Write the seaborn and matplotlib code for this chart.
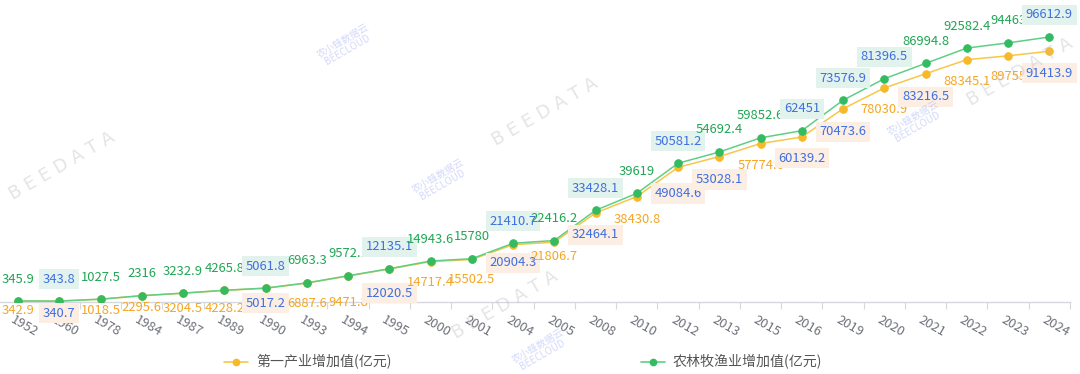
import numpy as np
import pandas as pd
import matplotlib
matplotlib.use("Agg")
import matplotlib.pyplot as plt
import matplotlib.transforms as mtransforms
from matplotlib.lines import Line2D
import seaborn as sns

# ---------------- data ----------------
years = ["1952", "1960", "1978", "1984", "1987", "1989", "1990", "1993", "1994", "1995",
         "2000", "2001", "2004", "2005", "2008", "2010", "2012", "2013", "2015", "2016",
         "2019", "2020", "2021", "2022", "2023", "2024"]
primary = [342.9, 340.7, 1018.5, 2295.6, 3204.5, 4228.2, 5017.2, 6887.6, 9471.8, 12020.5,
           14717.4, 15502.5, 20904.3, 21806.7, 32464.1, 38430.8, 49084.6, 53028.1, 57774.6, 60139.2,
           70473.6, 78030.9, 83216.5, 88345.1, 89755, 91413.9]
agri = [345.9, 343.8, 1027.5, 2316, 3232.9, 4265.8, 5061.8, 6963.3, 9572.1, 12135.1,
        14943.6, 15780, 21410.7, 22416.2, 33428.1, 39619, 50581.2, 54692.4, 59852.6, 62451,
        73576.9, 81396.5, 86994.8, 92582.4, 94463, 96612.9]
primary_labels = ["342.9", "340.7", "1018.5", "2295.6", "3204.5", "4228.2", "5017.2", "6887.6", "9471.8", "12020.5",
                  "14717.4", "15502.5", "20904.3", "21806.7", "32464.1", "38430.8", "49084.6", "53028.1", "57774.6", "60139.2",
                  "70473.6", "78030.9", "83216.5", "88345.1", "89755", "91413.9"]
agri_labels = ["345.9", "343.8", "1027.5", "2316", "3232.9", "4265.8", "5061.8", "6963.3", "9572.1", "12135.1",
               "14943.6", "15780", "21410.7", "22416.2", "33428.1", "39619", "50581.2", "54692.4", "59852.6", "62451",
               "73576.9", "81396.5", "86994.8", "92582.4", "94463", "96612.9"]
# highlighted (blue, boxed) labels
primary_hl = [1, 6, 9, 12, 14, 16, 17, 19, 20, 22, 25]
agri_hl = [1, 6, 9, 12, 14, 16, 19, 20, 21, 25]
name_primary = "第一产业增加值(亿元)"
name_agri = "农林牧渔业增加值(亿元)"

# ---------------- style ----------------
sns.set_theme(style="white")
plt.rcParams["font.family"] = ["Noto Sans CJK SC", "DejaVu Sans"]

PX = 0.72  # points per pixel at dpi 100
W, H = 1080, 374
fig = plt.figure(figsize=(W / 100, H / 100), dpi=100)
left_px, right_px, zero_px, top_px = -2.6, 1070.0, 302.0, 27.7
ax = fig.add_axes([left_px / W, (H - zero_px) / H, (right_px - left_px) / W, (zero_px - top_px) / H])

pos = np.arange(len(years))
df = pd.DataFrame({"pos": pos, "primary": primary, "agri": agri})

c_or_line, c_or_mk, c_or_txt = "#f8c64a", "#f6b928", "#f5a623"
c_gr_line, c_gr_mk, c_gr_txt = "#5fcf86", "#34bb62", "#1fa653"
c_blue = "#3f6fe0"

sns.lineplot(data=df, x="pos", y="primary", ax=ax, color=c_or_line, lw=1.1,
             marker="o", markersize=5.4, markerfacecolor=c_or_mk, markeredgecolor=c_or_mk, zorder=3)
sns.lineplot(data=df, x="pos", y="agri", ax=ax, color=c_gr_line, lw=1.1,
             marker="o", markersize=5.4, markerfacecolor=c_gr_mk, markeredgecolor=c_gr_mk, zorder=4)

ax.set_xlim(-0.5, len(years) - 0.5)
ax.set_ylim(0, 100000)
ax.set_xlabel("")
ax.set_ylabel("")
ax.set_yticks([])
for s in ["top", "right", "left"]:
    ax.spines[s].set_visible(False)
ax.spines["bottom"].set_color("#d5d8de")
ax.spines["bottom"].set_linewidth(1.0)

ax.set_xticks(pos)
ax.set_xticklabels(years)
ax.set_xticks(np.arange(len(years) + 1) - 0.5, minor=True)
ax.tick_params(axis="x", which="major", length=0, pad=11 * PX, labelsize=13 * PX, colors="#6e7079")
ax.tick_params(axis="x", which="minor", length=5, width=0.8, color="#d5d8de", bottom=True)
shift = mtransforms.ScaledTranslation(-3 / 100, 0, fig.dpi_scale_trans)
for lab in ax.get_xticklabels():
    lab.set_rotation(-30)
    lab.set_rotation_mode("anchor")
    lab.set_ha("left")
    lab.set_va("top")
    lab.set_transform(lab.get_transform() + shift)

# data labels
fs = 13 * PX
orange_off_px = [9, 12, 11, 12, 15, 18, 15, 20, 26, 24, 21, 20, 18, 14, 22, 23, 26, 23, 22, 21, 23, 22, 23, 22, 21, 22]
for i in range(len(years)):
    hl = i in agri_hl
    ax.annotate(agri_labels[i], (pos[i], agri[i]), xytext=(0, 22 * PX), textcoords="offset points",
                ha="center", va="center", fontsize=fs, color=c_blue if hl else c_gr_txt, zorder=6,
                bbox=dict(boxstyle="square,pad=0.28", fc="#e2f3ee", ec="none") if hl else None)
    hl = i in primary_hl
    ax.annotate(primary_labels[i], (pos[i], primary[i]), xytext=(0, -orange_off_px[i] * PX), textcoords="offset points",
                ha="center", va="center", fontsize=fs, color=c_blue if hl else c_or_txt, zorder=5,
                bbox=dict(boxstyle="square,pad=0.28", fc="#fdeee4", ec="none") if hl else None)

# legend
h1 = Line2D([], [], color=c_or_line, lw=1.2, marker="o", markersize=4.5, markerfacecolor=c_or_mk, markeredgecolor=c_or_mk)
h2 = Line2D([], [], color=c_gr_line, lw=1.2, marker="o", markersize=4.5, markerfacecolor=c_gr_mk, markeredgecolor=c_gr_mk)
leg_kw = dict(frameon=False, borderpad=0, borderaxespad=0, handlelength=24 / 14, handletextpad=8 / 14,
              prop={"size": 14 * PX}, labelcolor="#555555", loc="center left")
l1 = fig.legend([h1], [name_primary], bbox_to_anchor=(224 / W, (H - 362) / H), **leg_kw)
l2 = fig.legend([h2], [name_agri], bbox_to_anchor=(641 / W, (H - 362) / H), **leg_kw)

# watermarks
for (x, y) in [(62, 166), (545, 112), (505, 305), (1020, 72)]:
    fig.text(x / W, 1 - y / H, "B E E D A T A", fontsize=13, color="#bcbcbc", alpha=0.4,
             rotation=30, ha="center", va="center", family="DejaVu Sans", zorder=0)
for (x, y) in [(345, 45), (440, 180), (915, 122), (540, 350)]:
    fig.text(x / W, 1 - y / H, "农小蜂数据云\nBEECLOUD", fontsize=7, color="#8ea0f0", alpha=0.4,
             rotation=30, ha="center", va="center", linespacing=1.0, zorder=0)

fig.savefig("out.png", dpi=100)
